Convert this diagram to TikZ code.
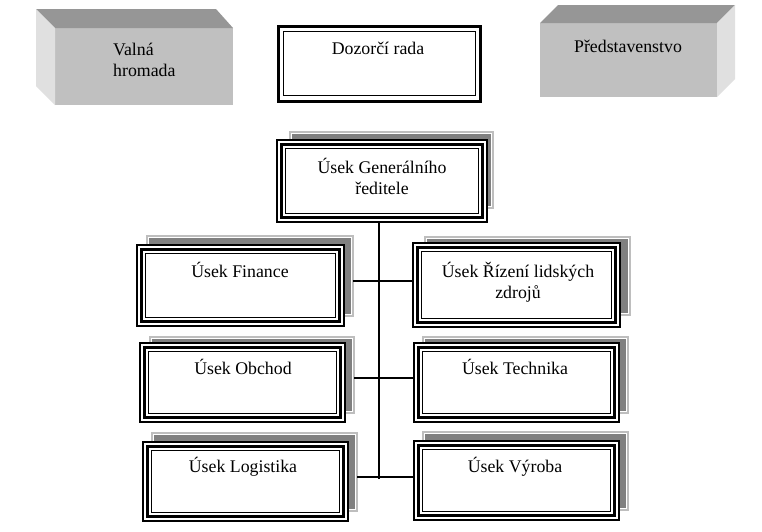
\documentclass[tikz,border=0pt]{standalone}
\usepackage{fontspec}
\setmainfont{Liberation Serif}
\usetikzlibrary{calc}
\definecolor{shadowgray}{HTML}{808080}
\definecolor{shadowedge}{HTML}{BEBEBE}
\definecolor{frontface}{HTML}{C0C0C0}
\definecolor{topface}{HTML}{969696}
\definecolor{sideface}{HTML}{E0E0E0}
\tikzset{
  lbl/.style={font=\fontsize{17.8}{21}\selectfont, inner sep=0pt, align=center, anchor=base},
  frontbox/.style={draw, line width=1.1pt, inner sep=0pt, outer sep=0pt, fill=white},
  shadowbox/.style={draw=shadowedge, fill=white, line width=1.4pt, inner sep=0pt, outer sep=0pt},
  conn/.style={line width=1.1pt},
}
\newcommand{\TriBox}[5]{%
  \node[frontbox, minimum width={#4-#2}, minimum height={#5-#3}] (#1) at ({(#2+#4)/2},{(#3+#5)/2}) {};
  \draw[line width=3.2pt] ([shift={(4.3pt,-4.3pt)}]#1.north west) rectangle ([shift={(-4.3pt,4.3pt)}]#1.south east);
  \draw[line width=1.2pt] ([shift={(8.2pt,-8.2pt)}]#1.north west) rectangle ([shift={(-8.2pt,8.2pt)}]#1.south east);
}
\newcommand{\ShBox}[5]{%
  \node[shadowbox, minimum width={#4-#2}, minimum height={#5-#3}] (#1) at ({(#2+#4)/2},{(#3+#5)/2}) {};
  \fill[shadowgray] ([shift={(2.2pt,-2.2pt)}]#1.north west) rectangle ([shift={(-2.2pt,2.2pt)}]#1.south east);
}
\begin{document}
\begin{tikzpicture}[x=1pt,y=-1pt]
\path[use as bounding box, fill=white] (0,0) rectangle (762,531);

% Valna hromada (3D box)
\node[fill=frontface, inner sep=0pt, outer sep=0pt, minimum width=178, minimum height=77] (valna) at (144,66.5) {};
\fill[topface] (36,9) -- (216,9) -- (valna.north east) -- (valna.north west) -- cycle;
\fill[sideface] (36,9) -- (valna.north west) -- (valna.south west) -- (36,86) -- cycle;
\node[lbl, align=left, anchor=base west] (valnatext) at (113,76) {Valná\\hromada};

% Predstavenstvo (3D box)
\node[fill=frontface, inner sep=0pt, outer sep=0pt, minimum width=177, minimum height=74] (pred) at (628.5,60) {};
\fill[topface] (pred.north west) -- (558,5) -- (735,5) -- (pred.north east) -- cycle;
\fill[sideface] (pred.north east) -- (735,5) -- (735,79) -- (pred.south east) -- cycle;
\node[lbl] (predtext) at (628,52) {Představenstvo};

% Dozorci rada (double border)
\node[draw, line width=3pt, inner sep=0pt, outer sep=0pt, fill=white, minimum width=202, minimum height=75] (dozor) at (379.5,63.5) {};
\draw[line width=1.3pt] ([shift={(5.2pt,-5.2pt)}]dozor.north west) rectangle ([shift={(-5.2pt,5.2pt)}]dozor.south east);
\node[lbl] (dozortext) at (378,54) {Dozorčí rada};

% shadows
\ShBox{genS}{290}{132}{493}{208}
\ShBox{finS}{147}{236}{353}{316}
\ShBox{rizS}{425}{237}{630}{315}
\ShBox{obchS}{150}{337}{354}{413}
\ShBox{techS}{423}{337}{628}{413}
\ShBox{logS}{152}{433}{357}{511}
\ShBox{vyrS}{423}{432}{628}{510}

% connectors
\coordinate (spine) at (379,479);
\draw[conn] (spine |- genS.south) -- (spine);
\draw[conn] (finS.east |- 0,281) -- (413,281);
\draw[conn] (obchS.east |- 0,378) -- (414,378);
\draw[conn] (logS.east |- 0,477) -- (414,477);

% front boxes
\TriBox{gen}{277}{140}{487}{222}
\TriBox{fin}{137}{245}{344}{326}
\TriBox{riz}{413}{243}{620}{327}
\TriBox{obch}{140}{343}{345}{422}
\TriBox{tech}{414}{343}{619}{422}
\TriBox{log}{143}{442}{348}{521}
\TriBox{vyr}{414}{441}{619}{520}

% texts
\node[lbl] (gentext) at (382,194) {Úsek Generálního\\ředitele};
\node[lbl] (fintext) at (240,277) {Úsek Finance};
\node[lbl] (riztext) at (518,298) {Úsek Řízení lidských\\zdrojů};
\node[lbl] (obchtext) at (243,374) {Úsek Obchod};
\node[lbl] (techtext) at (515,374) {Úsek Technika};
\node[lbl] (logtext) at (243,472) {Úsek Logistika};
\node[lbl] (vyrtext) at (515,472) {Úsek Výroba};
\end{tikzpicture}
\end{document}
